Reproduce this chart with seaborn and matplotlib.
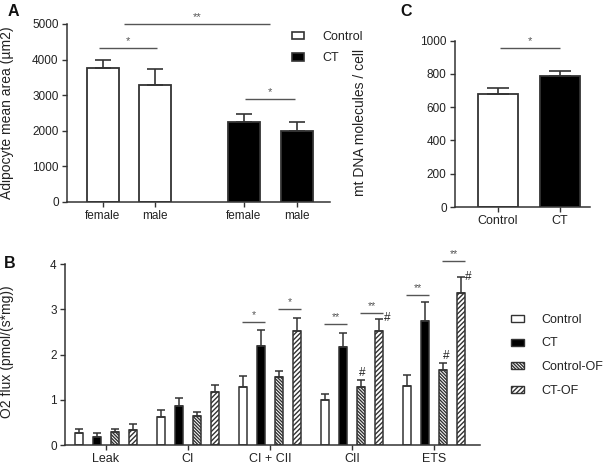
import numpy as np
import pandas as pd
import matplotlib
matplotlib.use("Agg")
import matplotlib.pyplot as plt
from matplotlib.patches import Patch
import seaborn as sns

# ---------------- data ----------------
# Panel A: adipocyte mean area
a_groups = ["Control", "Control", "CT", "CT"]
a_sex = ["female", "male", "female", "male"]
a_mean = [3756, 3287, 2256, 2003]
a_err = [233, 440, 216, 253]

# Panel B: O2 flux
b_states = ["Leak", "CI", "CI + CII", "CII", "ETS"]
b_conditions = ["Control", "CT", "Control-OF", "CT-OF"]
b_control = [0.26, 0.61, 1.28, 1.00, 1.31]
b_control_err = [0.09, 0.16, 0.25, 0.12, 0.24]
b_ct = [0.18, 0.87, 2.20, 2.17, 2.74]
b_ct_err = [0.08, 0.16, 0.35, 0.31, 0.42]
b_control_of = [0.28, 0.65, 1.50, 1.28, 1.66]
b_control_of_err = [0.07, 0.08, 0.13, 0.16, 0.15]
b_ct_of = [0.33, 1.17, 2.53, 2.53, 3.37]
b_ct_of_err = [0.13, 0.15, 0.28, 0.27, 0.35]

# Panel C: mtDNA
c_groups = ["Control", "CT"]
c_mean = [678, 788]
c_err = [36, 32]

# ---------------- style ----------------
sns.set_theme(style="ticks")
plt.rcParams["font.family"] = ["Liberation Sans", "DejaVu Sans"]
plt.rcParams["hatch.color"] = "#2a2a2a"
plt.rcParams["hatch.linewidth"] = 1.0
EDGE = "#333333"
TXT = "#222222"
SIG = "#555555"
FS = 8.5
LFS = 10

W, H = 605, 466
fig = plt.figure(figsize=(W / 100, H / 100), dpi=100)


def px_axes(left, right, top, bottom):
    return fig.add_axes([left / W, 1 - bottom / H, (right - left) / W, (bottom - top) / H])


def style_axes(ax):
    sns.despine(ax=ax)
    for s in ("left", "bottom"):
        ax.spines[s].set_color(EDGE)
        ax.spines[s].set_linewidth(1.1)
    ax.tick_params(axis="both", direction="out", length=3.5, width=1.0, color=EDGE,
                   labelsize=FS, labelcolor=TXT, pad=2.5)
    ax.set_xlabel("")


def sig(ax, x1, x2, y, text, fs=8):
    ax.plot([x1, x2], [y, y], color=SIG, lw=1.0, clip_on=False, solid_capstyle="butt")
    ax.annotate(text, xy=((x1 + x2) / 2, y), xytext=(0, 1.5), textcoords="offset points",
                ha="center", va="bottom", fontsize=fs, color=SIG, annotation_clip=False)


def add_errbars(ax, bars, means, errs, capsize, lw=1.2):
    xs = [b.get_x() + b.get_width() / 2 for b in bars]
    ax.errorbar(xs, means, yerr=[np.zeros(len(errs)), errs], fmt="none", ecolor=EDGE,
                elinewidth=lw, capsize=capsize, capthick=lw, zorder=1)


# ---------------- Panel A ----------------
a_pos = [0.0, 1.0, 2.71, 3.73]  # layout positions of the four bars
axA = px_axes(67, 330, 24, 202)
dfA = pd.DataFrame({"pos": a_pos, "group": a_groups, "value": a_mean})
sns.barplot(data=dfA, x="pos", y="value", hue="group", hue_order=["Control", "CT"],
            palette={"Control": "white", "CT": "black"}, native_scale=True, dodge=False,
            width=0.63, edgecolor=EDGE, linewidth=1.3, errorbar=None, legend=False, ax=axA)
barsA = sorted(axA.patches, key=lambda p: p.get_x())
add_errbars(axA, barsA, a_mean, a_err, capsize=6)
axA.set_xlim(-0.692, 4.365)
axA.set_ylim(0, 5000)
axA.set_yticks([0, 1000, 2000, 3000, 4000, 5000])
axA.set_xticks(a_pos)
axA.set_xticklabels(a_sex, fontsize=9)
style_axes(axA)
axA.set_ylabel("Adipocyte mean area (µm2)", fontsize=LFS, color=TXT)
axA.yaxis.set_label_coords(-0.2015, 0.5)
sig(axA, -0.08, 1.04, 4326, "*")
sig(axA, 0.40, 3.21, 5000, "**")
sig(axA, 2.73, 3.69, 2902, "*")
legA = axA.legend(handles=[Patch(facecolor="white", edgecolor=EDGE, lw=1.2, label="Control"),
                           Patch(facecolor="black", edgecolor=EDGE, lw=1.2, label="CT")],
                  loc="upper left", bbox_to_anchor=(292 / W, 1 - 31 / H),
                  bbox_transform=fig.transFigure, frameon=False, fontsize=9,
                  handlelength=0.95, handleheight=0.55, handletextpad=1.5,
                  labelspacing=0.75, borderpad=0, borderaxespad=0)
for t in legA.get_texts():
    t.set_color(TXT)

# ---------------- Panel C ----------------
axC = px_axes(455, 590, 40.7, 207)
dfC = pd.DataFrame({"group": c_groups, "value": c_mean})
sns.barplot(data=dfC, x="group", y="value", hue="group", hue_order=c_groups,
            palette={"Control": "white", "CT": "black"}, width=0.645, edgecolor=EDGE,
            linewidth=1.3, errorbar=None, legend=False, ax=axC)
barsC = sorted(axC.patches, key=lambda p: p.get_x())
add_errbars(axC, barsC, c_mean, c_err, capsize=8)
axC.set_xlim(-0.69, 1.48)
axC.set_ylim(0, 1000)
axC.set_yticks([0, 200, 400, 600, 800, 1000])
style_axes(axC)
axC.tick_params(axis="x", labelsize=9)
axC.set_ylabel("mt DNA molecules / cell", fontsize=LFS, color=TXT)
axC.yaxis.set_label_coords(-0.652, 0.51)
sig(axC, 0.03, 0.99, 958, "*")

# ---------------- Panel B ----------------
axB = px_axes(65, 480, 264.3, 445)
b_means = [b_control, b_ct, b_control_of, b_ct_of]
b_errs = [b_control_err, b_ct_err, b_control_of_err, b_ct_of_err]
dfB = pd.DataFrame({
    "state": np.tile(b_states, len(b_conditions)),
    "condition": np.repeat(b_conditions, len(b_states)),
    "flux": np.concatenate(b_means),
})
b_face = {"Control": "white", "CT": "black", "Control-OF": "white", "CT-OF": "white"}
b_hatch = {"Control": "", "CT": "", "Control-OF": "\\" * 10, "CT-OF": "/" * 7}
sns.barplot(data=dfB, x="state", y="flux", hue="condition", order=b_states,
            hue_order=b_conditions, palette=b_face, width=0.88, gap=0.55,
            edgecolor=EDGE, linewidth=1.1, errorbar=None, legend=False, ax=axB)
bar_centers = {}
for cond, cont, m, e in zip(b_conditions, axB.containers, b_means, b_errs):
    for bar in cont:
        bar.set_hatch(b_hatch[cond])
    add_errbars(axB, list(cont), m, e, capsize=2.6, lw=1.1)
    bar_centers[cond] = [b.get_x() + b.get_width() / 2 for b in cont]
axB.set_xlim(-0.5, 4.56)
axB.set_ylim(0, 4)
axB.set_yticks([0, 1, 2, 3, 4])
style_axes(axB)
axB.tick_params(axis="x", labelsize=9)
axB.set_ylabel("O2 flux (pmol/(s*mg))", fontsize=LFS, color=TXT)
axB.yaxis.set_label_coords(-0.123, 0.515)

# significance annotations (state index, first condition, second condition, height, text)
b_sig = [(2, "Control", "CT", 2.72, "*"), (2, "Control-OF", "CT-OF", 3.01, "*"),
         (3, "Control", "CT", 2.68, "**"), (3, "Control-OF", "CT-OF", 2.92, "**"),
         (4, "Control", "CT", 3.32, "**"), (4, "Control-OF", "CT-OF", 4.07, "**")]
for i, c1, c2, y, t in b_sig:
    sig(axB, bar_centers[c1][i] - 0.01, bar_centers[c2][i] + 0.05, y, t, fs=7.5)

# '#' markers (state index, condition, x offset in px)
b_hash = [(3, "Control-OF", 1), (3, "CT-OF", 8), (4, "Control-OF", 3), (4, "CT-OF", 7)]
for i, c, dx in b_hash:
    j = b_conditions.index(c)
    ytop = b_means[j][i] + b_errs[j][i]
    axB.annotate("#", xy=(bar_centers[c][i], ytop), xytext=(dx * 0.72, 1 if c == "Control-OF" else -4),
                 textcoords="offset points", ha="center", va="bottom", fontsize=8.5,
                 color=TXT, annotation_clip=False)

legB = axB.legend(handles=[Patch(facecolor=b_face[c], edgecolor=EDGE, lw=1.0,
                                 hatch=b_hatch[c], label=c) for c in b_conditions],
                  loc="upper left", bbox_to_anchor=(511 / W, 1 - 314 / H),
                  bbox_transform=fig.transFigure, frameon=False, fontsize=9,
                  handlelength=1.0, handleheight=0.5, handletextpad=1.4,
                  labelspacing=0.92, borderpad=0, borderaxespad=0)
for t in legB.get_texts():
    t.set_color(TXT)

# panel letters
for lab, x, y in [("A", 8, 4), ("C", 400, 4), ("B", 4, 256)]:
    fig.text(x / W, 1 - y / H, lab, fontsize=11.5, fontweight="bold", color="#111111",
             ha="left", va="top")

fig.savefig("out.png", dpi=100)
